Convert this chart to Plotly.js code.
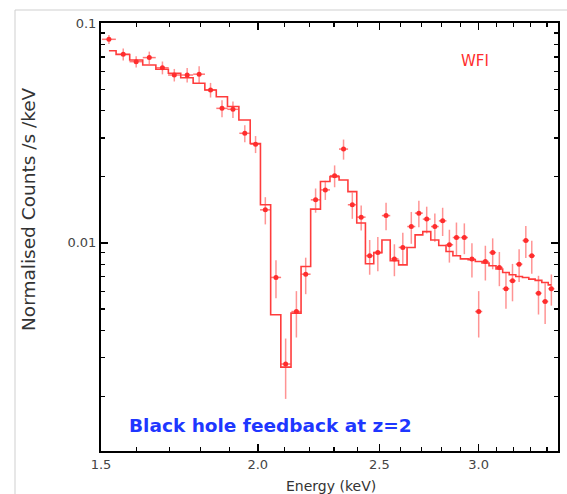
<!DOCTYPE html>
<html>
<head>
<meta charset="utf-8">
<script src="https://cdn.plot.ly/plotly-3.0.1.min.js"></script>
<style>html,body{margin:0;padding:0;background:#fff;}#chart{width:567px;height:494px;}</style>
</head>
<body>
<div id="chart"></div>
<script>
// Energy bin centres (keV)
const energy = [1.522,1.5625,1.600,1.639,1.679,1.716,1.757,1.796,1.834,1.873,
  1.911,1.953,1.992,2.028,2.068,2.105,2.147,2.184,2.224,2.264,
  2.303,2.341,2.379,2.418,2.456,2.493,2.531,2.570,2.610,2.651,
  2.688,2.727,2.768,2.808,2.843,2.880,2.922,2.963,3.000,3.037,
  3.078,3.116,3.154,3.192,3.231,3.271,3.307,3.348,3.389,3.428];
// Observed normalised counts /s/keV
const counts = [0.0843,0.0721,0.0667,0.0696,0.0626,0.0580,0.0580,0.0585,0.0496,0.0409,
  0.0405,0.0315,0.0281,0.01413,0.00696,0.00281,0.00487,0.00720,0.01569,0.01741,
  0.0202,0.0267,0.0149,0.01309,0.00873,0.00903,0.0133,0.00845,0.00953,0.01186,
  0.01365,0.01282,0.01186,0.01259,0.0098,0.01057,0.01057,0.00845,0.00487,0.00822,
  0.00903,0.00772,0.00618,0.00672,0.0080,0.01024,0.00873,0.0059,0.00541,0.00618];
// 1-sigma errors on the counts
const countErr = [0.0040,0.0045,0.0039,0.0045,0.0042,0.0038,0.0044,0.0051,0.0038,0.0036,
  0.0035,0.0028,0.0025,0.0020,0.00137,0.00086,0.00116,0.00136,0.00198,0.00174,
  0.0023,0.0028,0.00204,0.00171,0.00157,0.0016,0.0019,0.0014,0.00157,0.00196,
  0.00187,0.00178,0.00174,0.00185,0.00167,0.0018,0.00169,0.0015,0.00116,0.00148,
  0.00145,0.00137,0.00117,0.0013,0.00136,0.0017,0.0015,0.00118,0.00114,0.001];
// Folded model, per bin
const model = [0.0748,0.0719,0.0679,0.0644,0.0616,0.0591,0.0564,0.0532,0.0496,0.0462,
  0.0417,0.0362,0.0283,0.0149,0.00471,0.00272,0.00479,0.0078,0.01423,0.0190,
  0.0200,0.0193,0.0171,0.0123,0.00803,0.00903,0.0103,0.0083,0.00794,0.00953,
  0.01087,0.01125,0.0103,0.00973,0.00913,0.00873,0.00845,0.00837,0.00822,0.00809,
  0.00786,0.00760,0.00733,0.00716,0.00703,0.00695,0.00684,0.00675,0.0066,0.00644];
const binHalfWidth = 0.0195;

const xMajor = [1.5,2.0,2.5,3.0];
const xMajorText = ['1.5','2.0','2.5','3.0'];
const xMinor = [1.6,1.7,1.8,1.9,2.1,2.2,2.3,2.4,2.6,2.7,2.8,2.9,3.1,3.2,3.3,3.4];
const yMajor = [0.01,0.1];
const yMajorText = ['0.01','0.1'];
const yMinor = [0.002,0.003,0.004,0.005,0.006,0.007,0.008,0.009,0.02,0.03,0.04,0.05,0.06,0.07,0.08,0.09];

// layout geometry (pixels)
const W = 567, H = 494, L = 101, R = 558, T = 23, B = 451;
const px = x => (x - L) / (R - L);
const py = y => (B - y) / (B - T);

const red = 'rgb(255,45,45)';
const traces = [
  {x: energy, y: model, type: 'scatter', mode: 'lines',
   line: {shape: 'hvh', color: 'rgb(255,60,60)', width: 1.6}, hoverinfo: 'skip'},
  {x: energy, y: counts, type: 'scatter', mode: 'markers',
   marker: {color: red, size: 5},
   error_y: {type: 'data', array: countErr, visible: true, color: 'rgba(255,60,60,0.55)', thickness: 1.5, width: 0},
   error_x: {type: 'constant', value: binHalfWidth, visible: true, color: 'rgba(255,60,60,0.7)', thickness: 1.5, width: 0}}
];

const tickFont = {family: 'DejaVu Sans, sans-serif', size: 13, color: '#444'};
const layout = {
  width: W, height: H,
  margin: {l: L, r: W - R, t: T, b: H - B, pad: 0},
  paper_bgcolor: '#fff', plot_bgcolor: '#fff',
  showlegend: false,
  xaxis: {type: 'log', range: [Math.log10(1.5), Math.log10(3.47)],
    tickmode: 'array', tickvals: xMajor, ticktext: xMajorText,
    ticks: 'inside', ticklen: 7, tickwidth: 1.5, tickcolor: '#000',
    showline: true, linecolor: '#000', linewidth: 2, mirror: 'allticks',
    showgrid: false, zeroline: false, tickfont: tickFont,
    minor: {tickmode: 'array', tickvals: xMinor, ticks: 'inside', ticklen: 4, tickwidth: 1.2, tickcolor: '#000', showgrid: false}},
  yaxis: {type: 'log', range: [Math.log10(0.00113), -1],
    tickmode: 'array', tickvals: yMajor, ticktext: yMajorText,
    ticks: 'inside', ticklen: 7, tickwidth: 1.5, tickcolor: '#000',
    showline: true, linecolor: '#000', linewidth: 2, mirror: 'allticks',
    showgrid: false, zeroline: false, tickfont: tickFont,
    minor: {tickmode: 'array', tickvals: yMinor, ticks: 'inside', ticklen: 4, tickwidth: 1.2, tickcolor: '#000', showgrid: false}},
  shapes: [
    {type: 'line', xref: 'paper', yref: 'paper', x0: px(15), x1: px(15), y0: py(10), y1: py(H + 5), line: {color: '#cfcfcf', width: 1}},
    {type: 'line', xref: 'paper', yref: 'paper', x0: px(15), x1: px(W + 5), y0: py(10), y1: py(10), line: {color: '#cfcfcf', width: 1}}
  ],
  annotations: [
    {xref: 'paper', yref: 'paper', x: px(475), y: py(61), text: 'WFI', showarrow: false,
     font: {family: 'DejaVu Sans, sans-serif', size: 15, color: red}, xanchor: 'center', yanchor: 'middle'},
    {xref: 'paper', yref: 'paper', x: px(270), y: py(425), text: '<b>Black hole feedback at z=2</b>', showarrow: false,
     font: {family: 'DejaVu Sans, sans-serif', size: 18.5, color: 'rgb(30,55,255)'}, xanchor: 'center', yanchor: 'middle'},
    {xref: 'paper', yref: 'paper', x: px(331), y: py(486), text: 'Energy (keV)', showarrow: false,
     font: {family: 'DejaVu Sans, sans-serif', size: 14, color: '#333'}, xanchor: 'center', yanchor: 'middle'},
    {xref: 'paper', yref: 'paper', x: px(28), y: py(209), text: 'Normalised Counts /s /keV', showarrow: false, textangle: -90,
     font: {family: 'DejaVu Sans, sans-serif', size: 18.5, color: '#333'}, xanchor: 'center', yanchor: 'middle'}
  ]
};

Plotly.newPlot('chart', traces, layout, {displayModeBar: false, staticPlot: true});
</script>
</body>
</html>
